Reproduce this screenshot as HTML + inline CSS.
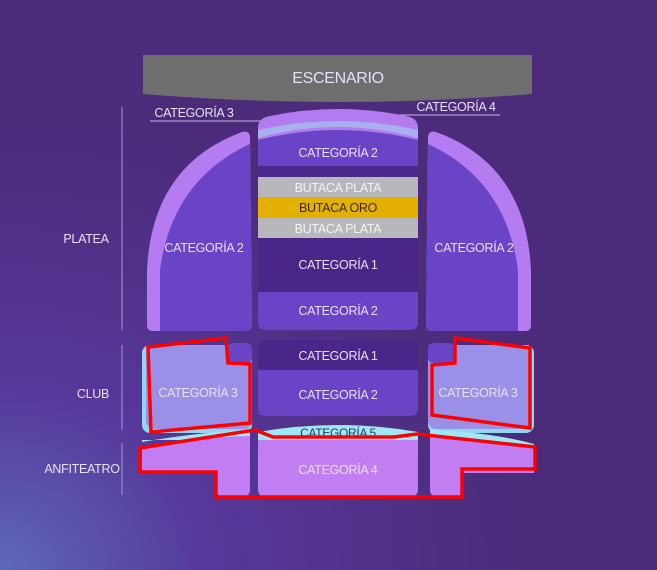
<!DOCTYPE html>
<html><head><meta charset="utf-8"><style>
html,body{margin:0;padding:0;width:657px;height:570px;overflow:hidden;background:#4a2a78}
svg{display:block}
text{font-family:"Liberation Sans",sans-serif;font-size:12.5px;fill:#e8e0f8;text-anchor:middle;letter-spacing:-0.3px}
</style></head><body>
<svg width="657" height="570" viewBox="0 0 657 570" xmlns="http://www.w3.org/2000/svg">
<defs>
<radialGradient id="bg" cx="0.0" cy="1" r="0.8">
<stop offset="0" stop-color="#5e68b8"/><stop offset="0.4" stop-color="#56389a"/><stop offset="1" stop-color="#4b2b7a"/>
</radialGradient>
</defs>
<rect width="657" height="570" fill="url(#bg)"/>
<!-- stage -->
<path d="M143 55 H532 V94 Q338 110 143 94 Z" fill="#6e6e6e"/>
<text x="338" y="83" style="font-size:16px">ESCENARIO</text>
<!-- top labels -->
<text x="194" y="117">CATEGORÍA 3</text>
<line x1="150" y1="121" x2="305" y2="121" stroke="#c8b8e8" stroke-width="1"/>
<text x="456" y="111">CATEGORÍA 4</text>
<line x1="383" y1="115" x2="500" y2="115" stroke="#c8b8e8" stroke-width="1"/>
<!-- side labels -->
<line x1="122" y1="107" x2="122" y2="330" stroke="#a898c8"/>
<line x1="122" y1="345" x2="122" y2="430" stroke="#a898c8"/>
<line x1="122" y1="443" x2="122" y2="495" stroke="#a898c8"/>
<text x="86" y="243">PLATEA</text>
<text x="93" y="398">CLUB</text>
<text x="82" y="473">ANFITEATRO</text>
<!-- platea left -->
<path d="M250 138 Q250 130 242 132 Q152 165 147 270 V325 Q147 331 153 331 H246 Q252 331 252 325 Z" fill="#b47cf0"/>
<path d="M250 144 Q172 180 160 270 V331 H246 Q252 331 252 325 Z" fill="#6a44c6"/>
<text x="204" y="252">CATEGORÍA 2</text>
<!-- platea right -->
<path d="M428 138 Q428 130 436 132 Q526 165 531 270 V325 Q531 331 525 331 H432 Q426 331 426 325 Z" fill="#b47cf0"/>
<path d="M428 144 Q506 180 518 270 V331 H432 Q426 331 426 325 Z" fill="#6a44c6"/>
<text x="474" y="252">CATEGORÍA 2</text>
<!-- center -->
<path d="M258 128 Q258 118 270 116 Q338 102 406 116 Q418 118 418 128 V166 H258 Z" fill="#b27cf0"/>
<path d="M258 138 Q338 116 418 138 V130 Q338 112 258 130 Z" fill="#a8b0f0"/>
<path d="M258 140 Q338 120 418 140 V166 H258 Z" fill="#6a44c6"/>
<text x="338" y="157">CATEGORÍA 2</text>
<rect x="258" y="166" width="160" height="11" fill="#4a2a8a"/>
<rect x="258" y="177" width="160" height="20" fill="#b8b8bc"/>
<text x="338" y="192" style="fill:#f4f4f4">BUTACA PLATA</text>
<rect x="258" y="197" width="160" height="21" fill="#e4b000"/>
<text x="338" y="212" style="fill:#3a2a10">BUTACA ORO</text>
<rect x="258" y="218" width="160" height="20" fill="#b8b8bc"/>
<text x="338" y="233" style="fill:#f4f4f4">BUTACA PLATA</text>
<rect x="258" y="238" width="160" height="54" fill="#4a2688"/>
<text x="338" y="269">CATEGORÍA 1</text>
<path d="M258 292 H418 V322 Q418 330 410 330 H266 Q258 330 258 322 Z" fill="#6a44c6"/>
<text x="338" y="315">CATEGORÍA 2</text>
<!-- club center -->
<path d="M266 340 H410 Q418 340 418 348 V370 H258 V348 Q258 340 266 340 Z" fill="#4a2688"/>
<text x="338" y="360">CATEGORÍA 1</text>
<path d="M258 370 H418 V408 Q418 416 410 416 H266 Q258 416 258 408 Z" fill="#6a44c6"/>
<text x="338" y="399">CATEGORÍA 2</text>
<!-- club sides -->
<rect x="142" y="345" width="110" height="88" rx="8" fill="#90d8f0"/>
<rect x="146" y="345" width="106" height="84" rx="8" fill="#9a90e8"/>
<rect x="228" y="343" width="24" height="20" rx="5" fill="#6a44c6"/>
<text x="198" y="397">CATEGORÍA 3</text>
<rect x="428" y="345" width="106" height="88" rx="8" fill="#90d8f0"/>
<rect x="428" y="345" width="102" height="84" rx="8" fill="#9a90e8"/>
<rect x="428" y="343" width="26" height="20" rx="5" fill="#6a44c6"/>
<text x="478" y="397">CATEGORÍA 3</text>
<!-- cat 5 -->
<path d="M258 432 Q338 418 418 432 V440 H258 Z" fill="#9ee8f4"/>
<text x="338" y="437" style="fill:#2a3a5a;font-size:12px">CATEGORÍA 5</text>
<path d="M142 442 Q200 432 250 430 V440 H142 Z" fill="#9ee8f4"/>
<path d="M430 430 Q490 432 534 444 V448 H430 Z" fill="#9ee8f4"/>
<!-- anfiteatro -->
<path d="M258 440 H418 V489 Q418 497 410 497 H266 Q258 497 258 489 Z" fill="#c07ef2"/>
<text x="338" y="474">CATEGORÍA 4</text>
<path d="M142 446 Q200 437 250 436 V490 Q250 496 244 496 H222 Q216 496 216 490 V473 H142 Z" fill="#c07ef2"/>
<path d="M430 436 Q490 438 534 448 V473 H462 V490 Q462 496 456 496 H436 Q430 496 430 490 Z" fill="#c07ef2"/>
<!-- red outlines -->
<g fill="none" stroke="#ff0000" stroke-width="3.5" stroke-linejoin="miter">
<path d="M148 347 L226 338 L228 363 L250 364 L250 423 L151 432 Z"/>
<path d="M455 338 L530 348 L530 428 L432 415 L432 365 L455 363 Z"/>
<path d="M140 448 L255 430 L273 437 L394 437 L417 434 L535 447 L535 469 L462 469 L462 497 L216 497 L216 472 L140 472 Z"/>
</g>
</svg>
</body></html>
